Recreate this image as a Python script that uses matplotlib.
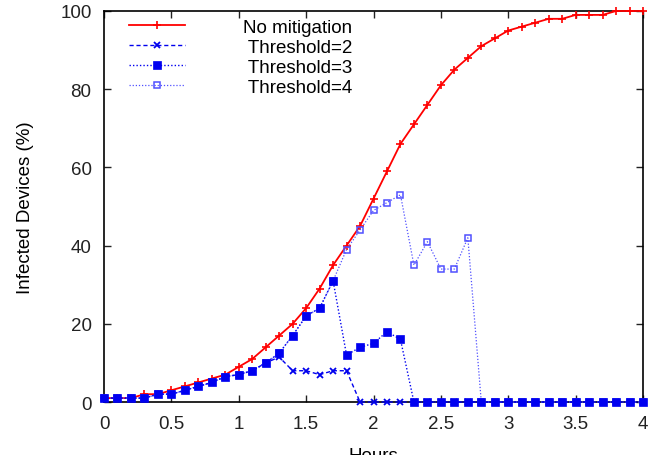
import numpy as np
import matplotlib
matplotlib.use("Agg")
import matplotlib.pyplot as plt

plt.rcParams['font.family'] = ['Liberation Sans', 'DejaVu Sans']

# time axis, one sample every 0.1 hours
hours = np.round(np.arange(0, 4.01, 0.1), 1)

no_mitigation = [1, 1, 1, 2, 2, 3, 4, 5, 6, 7, 9, 11, 14, 17, 20, 24, 29, 35, 40, 45,
                 52, 59, 66, 71, 76, 81, 85, 88, 91, 93, 95, 96, 97, 98, 98, 99, 99, 99, 100, 100, 100]
threshold2 = [1, 1, 1, 1, 2, 2, 3, 4, 5, 6.5, 7, 8, 10, 11.5, 8, 8, 7, 8, 8, 0,
              0, 0, 0, 0, 0, 0, 0, 0, 0, 0, 0, 0, 0, 0, 0, 0, 0, 0, 0, 0, 0]
threshold3 = [1, 1, 1, 1, 2, 2, 3, 4, 5, 6.5, 7, 8, 10, 12.5, 17, 22, 24, 31, 12, 14,
              15, 18, 16, 0, 0, 0, 0, 0, 0, 0, 0, 0, 0, 0, 0, 0, 0, 0, 0, 0, 0]
threshold4 = [1, 1, 1, 1, 2, 2, 3, 4, 5, 6.5, 7, 8, 10, 12.5, 17, 22, 24, 31, 39, 44,
              49, 51, 53, 35, 41, 34, 34, 42, 0, 0, 0, 0, 0, 0, 0, 0, 0, 0, 0, 0, 0]

fs = 13.5

fig = plt.figure(figsize=(6.48, 4.56), dpi=100)
ax = fig.add_axes([0.1605, 0.1162, 0.8318, 0.8575])

ax.plot(hours, no_mitigation, color='#ff0000', lw=1.3, marker='+', ms=5.5, mew=1.2,
        label='No mitigation', zorder=3, clip_on=False)
ax.plot(hours, threshold2, color='#0000ee', lw=1.0, ls=(0, (3, 2)), marker='x', ms=5, mew=1.3,
        label=' Threshold=2', zorder=4, clip_on=False)
ax.plot(hours, threshold4, color='#5050ff', lw=0.9, ls=(0, (1, 1.5)), marker='s', ms=5, mew=1.1,
        mfc='none', label=' Threshold=4', zorder=5, clip_on=False)
ax.plot(hours, threshold3, color='#0000f0', lw=1.0, ls=(0, (1, 1.5)), marker='s', ms=5.5, mew=0.5,
        label=' Threshold=3', zorder=6, clip_on=False)

ax.set_xlim(0, 4)
ax.set_ylim(0, 100)
ax.set_xticks(np.arange(0, 4.01, 0.5))
ax.set_xticklabels(['0', '0.5', '1', '1.5', '2', '2.5', '3', '3.5', '4'])
ax.set_yticks(np.arange(0, 101, 20))
ax.tick_params(direction='in', top=True, right=True, length=5, width=1, labelsize=fs,
               colors='#222222')
ax.tick_params(axis='x', pad=9)
ax.tick_params(axis='y', pad=9)
for s in ax.spines.values():
    s.set_linewidth(1.2)
ax.set_xlabel('Hours', fontsize=fs, labelpad=11)
ax.set_ylabel('Infected Devices (%)', fontsize=fs, labelpad=19)

handles, labels = ax.get_legend_handles_labels()
order = [0, 1, 3, 2]
ax.legend([handles[i] for i in order], [labels[i] for i in order], loc='upper left',
          frameon=False, fontsize=fs, handlelength=3.0, handletextpad=3.1,
          labelspacing=0.16, borderaxespad=0, bbox_to_anchor=(0.0325, 1.0))

fig.savefig('out.png', dpi=100)
